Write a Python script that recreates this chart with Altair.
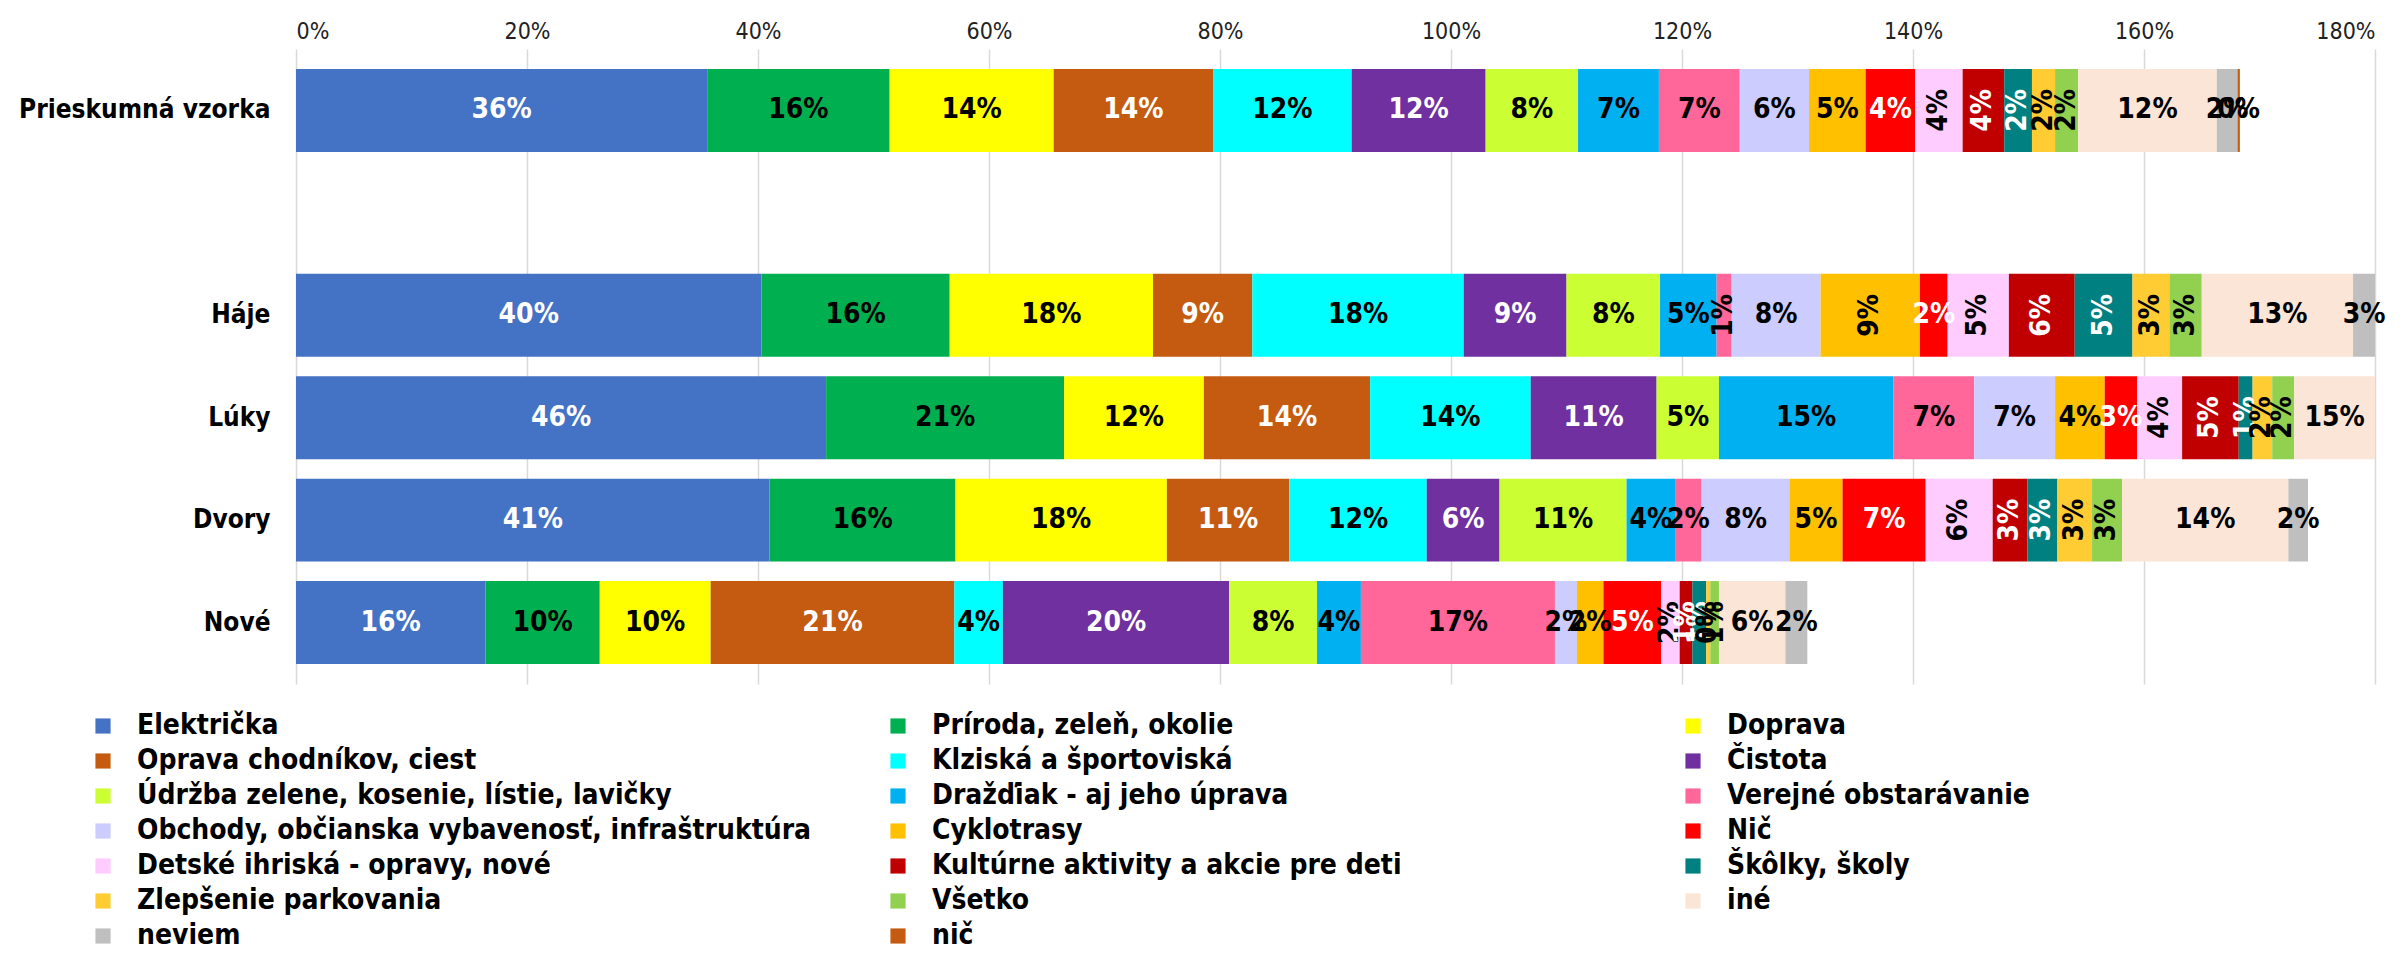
import altair as alt
import pandas as pd

FONT = "Liberation Sans Narrow, DejaVu Sans Condensed, Liberation Sans, sans-serif"

categories = [
    "Električka", "Príroda, zeleň, okolie", "Doprava",
    "Oprava chodníkov, ciest", "Klziská a športoviská", "Čistota",
    "Údržba zelene, kosenie, lístie, lavičky", "Dražďiak - aj jeho úprava", "Verejné obstarávanie",
    "Obchody, občianska vybavenosť, infraštruktúra", "Cyklotrasy", "Nič",
    "Detské ihriská - opravy, nové", "Kultúrne aktivity a akcie pre deti", "Škôlky, školy",
    "Zlepšenie parkovania", "Všetko", "iné",
    "neviem", "nič",
]
colors = [
    "#4472C4", "#00B050", "#FFFF00",
    "#C55A11", "#00FFFF", "#7030A0",
    "#CCFF33", "#00B0F0", "#FF6699",
    "#CCCCFF", "#FFC000", "#FF0000",
    "#FFCCFF", "#C00000", "#008080",
    "#FFCC33", "#92D050", "#FBE5D6",
    "#BFBFBF", "#C55A11",
]

rows = ["Prieskumná vzorka", "Háje", "Lúky", "Dvory", "Nové"]

# percentages per category (in the order of `categories`); None = not shown
prieskumna = [35.6, 15.8, 14.2, 13.8, 12.0, 11.6, 8.0, 7.0, 7.0, 6.0, 4.9, 4.3, 4.1, 3.6, 2.4, 2.0, 2.0, 12.0, 1.8, 0.2]
haje = [40.3, 16.3, 17.6, 8.6, 18.3, 8.9, 8.1, 4.9, 1.3, 7.7, 8.6, 2.4, 5.3, 5.7, 5.0, 3.2, 2.8, 13.1, 3.0, None]
luky = [45.9, 20.6, 12.1, 14.4, 13.9, 10.9, 5.4, 15.1, 7.0, 7.0, 4.3, 2.8, 3.9, 4.9, 1.2, 1.7, 1.9, 15.0, None, None]
dvory = [41.0, 16.1, 18.3, 10.6, 11.9, 6.3, 11.0, 4.2, 2.3, 7.6, 4.6, 7.2, 5.8, 3.0, 2.6, 3.0, 2.6, 14.4, 1.7, None]
nove = [16.4, 9.9, 9.6, 21.1, 4.2, 19.6, 7.6, 3.8, 16.8, 1.9, 2.3, 5.0, 1.6, 1.1, 1.2, 0.35, 0.75, 5.75, 1.9, None]

series = [prieskumna, haje, luky, dvory, nove]
XMAX = 1.8

white_text = ["Električka", "Oprava chodníkov, ciest", "Čistota", "Nič",
              "Kultúrne aktivity a akcie pre deti", "Škôlky, školy"]
rotated_cats = {"Detské ihriská - opravy, nové", "Kultúrne aktivity a akcie pre deti",
                "Škôlky, školy", "Zlepšenie parkovania", "Všetko"}
rotated_extra = {("Háje", "Verejné obstarávanie"), ("Háje", "Cyklotrasy")}

recs = []
for r, vals in zip(rows, series):
    acc = 0.0
    for c, v in zip(categories, vals):
        if v is None:
            continue
        x0 = acc
        x1 = acc + v / 100.0
        acc = x1
        recs.append({
            "row": r, "cat": c, "value": v / 100.0, "x0": x0, "x1": x1,
            "mid": (x0 + min(x1, XMAX)) / 2.0,
            "vis": x0 < XMAX,
            "rot": (c in rotated_cats) or ((r, c) in rotated_extra),
        })
df = pd.DataFrame(recs)

row_domain = ["Prieskumná vzorka", " ", "Háje", "Lúky", "Dvory", "Nové"]
yscale = alt.Scale(domain=row_domain, paddingInner=0.19, paddingOuter=0.195)

base = alt.Chart(df)

bars = base.mark_bar(clip=True).encode(
    x=alt.X("x0:Q",
            scale=alt.Scale(domain=[0, XMAX], nice=False),
            axis=alt.Axis(orient="top", format=".0%", values=[i / 5 for i in range(10)],
                          grid=True, gridColor="#D9D9D9", gridWidth=1.5,
                          domain=False, ticks=False, labelFontSize=23, labelFont=FONT,
                          labelColor="#222222", labelPadding=6,
                          minExtent=36, maxExtent=36),
            title=None),
    x2="x1:Q",
    y=alt.Y("row:N", scale=yscale,
            axis=alt.Axis(domain=False, ticks=False, labelFontSize=26, labelFont=FONT,
                          labelFontWeight="bold", labelColor="black", labelPadding=26,
                          labelLimit=400, minExtent=283, maxExtent=283),
            title=None),
    color=alt.Color("cat:N", scale=alt.Scale(domain=categories, range=colors),
                    legend=alt.Legend(orient="none", legendX=-207, legendY=663,
                                      direction="horizontal",
                                      columns=3, title=None, symbolType="square",
                                      symbolSize=230, symbolStrokeWidth=0,
                                      labelFontSize=28, labelFont=FONT,
                                      labelFontWeight="bold", labelColor="black",
                                      labelLimit=900, labelOffset=20, rowPadding=7,
                                      columnPadding=72, gridAlign="all")),
)

txt_color = alt.condition(alt.FieldOneOfPredicate(field="cat", oneOf=white_text),
                          alt.value("white"), alt.value("black"))

text_h = base.transform_filter("datum.vis && !datum.rot").mark_text(
    fontSize=28, font=FONT, fontWeight="bold", align="center", baseline="middle"
).encode(
    x=alt.X("mid:Q"), y=alt.Y("row:N", scale=yscale),
    text=alt.Text("value:Q", format=".0%"), color=txt_color,
)

text_v = base.transform_filter("datum.vis && datum.rot").mark_text(
    fontSize=28, font=FONT, fontWeight="bold", align="center", baseline="middle", angle=270
).encode(
    x=alt.X("mid:Q"), y=alt.Y("row:N", scale=yscale),
    text=alt.Text("value:Q", format=".0%"), color=txt_color,
)

chart = alt.layer(bars, text_h, text_v).properties(
    width=2079, height=635, background="white"
).configure_view(stroke=None)

chart.save("out.html", embed_options={"renderer": "svg", "actions": False})
